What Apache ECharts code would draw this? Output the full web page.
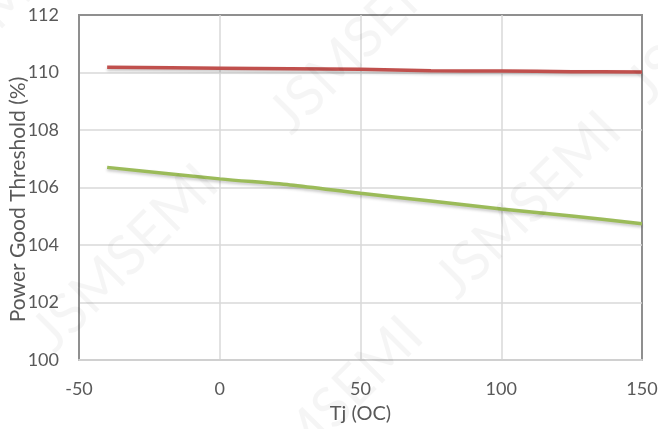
<!DOCTYPE html>
<html>
<head>
<meta charset="utf-8">
<script src="https://cdn.jsdelivr.net/npm/echarts@6/dist/echarts.min.js"></script>
<style>
html,body{margin:0;padding:0;background:#fff;}
#chart{width:658px;height:429px;}
</style>
</head>
<body>
<div id="chart"></div>
<script>
// Data
var tempC = [-40, 0, 25, 50, 75, 100, 125, 150];
var upperThreshold = [110.18, 110.15, 110.13, 110.11, 110.06, 110.05, 110.03, 110.02];
var lowerThreshold = [106.70, 106.30, 106.09, 105.80, 105.53, 105.25, 105.01, 104.74];
var xTicks = {min: -50, max: 150, interval: 50};
var yTicks = {min: 100, max: 112, interval: 2};
var xTitle = 'Tj (OC)';
var yTitle = 'Power Good Threshold (%)';
var watermarkText = 'JSMSEMI';

function pairs(xs, ys) { return xs.map(function (x, i) { return [x, ys[i]]; }); }

var font = 'Lato, "Open Sans", sans-serif';
var chart = echarts.init(document.getElementById('chart'), null, {renderer: 'canvas'});

var wmPos = [[362, 40], [528, 205], [125, 258], [330, 410], [-50, 55], [700, 430], [720, 10]];
var watermarks = wmPos.map(function (p) {
  return {
    type: 'text', x: p[0], y: p[1], rotation: Math.PI / 4, z: 100, silent: true,
    style: {text: watermarkText, fill: 'rgba(0,0,0,0.04)', font: '56px ' + font,
            align: 'center', verticalAlign: 'middle'}
  };
});

chart.setOption({
  animation: false,
  backgroundColor: '#ffffff',
  grid: {left: 79, right: 16, top: 15, bottom: 69, containLabel: false, outerBoundsMode: 'none',
         show: true, borderColor: '#8f8f8f', borderWidth: 2},
  xAxis: {
    type: 'value', min: xTicks.min, max: xTicks.max, interval: xTicks.interval,
    name: xTitle, nameLocation: 'middle', nameGap: 44, nameMoveOverlap: false,
    nameTextStyle: {color: '#595959', fontSize: 20, fontFamily: font},
    axisLine: {show: true, onZero: false, lineStyle: {color: '#d0d0d0', width: 2}},
    axisTick: {show: false},
    axisLabel: {color: '#595959', fontSize: 18, fontFamily: font, margin: 20},
    splitLine: {show: true, showMinLine: false, showMaxLine: false, lineStyle: {color: '#d9d9d9', width: 1.5}}
  },
  yAxis: {
    type: 'value', min: yTicks.min, max: yTicks.max, interval: yTicks.interval,
    name: yTitle, nameLocation: 'middle', nameGap: 50, nameRotate: 90, nameMoveOverlap: false,
    nameTextStyle: {color: '#595959', fontSize: 21, fontFamily: font, padding: [0, 24, 0, 0]},
    axisLine: {show: true, onZero: false, lineStyle: {color: '#8f8f8f', width: 2}},
    axisTick: {show: false},
    axisLabel: {color: '#595959', fontSize: 18, fontFamily: font, margin: 20},
    splitLine: {show: true, showMinLine: false, showMaxLine: false, lineStyle: {color: '#d9d9d9', width: 1.5}}
  },
  series: [
    {
      type: 'line', data: pairs(tempC, upperThreshold), smooth: 0.3, symbol: 'none',
      lineStyle: {color: '#c0504d', width: 3.5, shadowColor: 'rgba(0,0,0,0.22)', shadowBlur: 3, shadowOffsetY: 2}
    },
    {
      type: 'line', data: pairs(tempC, lowerThreshold), smooth: 0.3, symbol: 'none',
      lineStyle: {color: '#9bbb59', width: 3.5, shadowColor: 'rgba(0,0,0,0.22)', shadowBlur: 3, shadowOffsetY: 2}
    }
  ],
  graphic: watermarks
});
</script>
</body>
</html>
